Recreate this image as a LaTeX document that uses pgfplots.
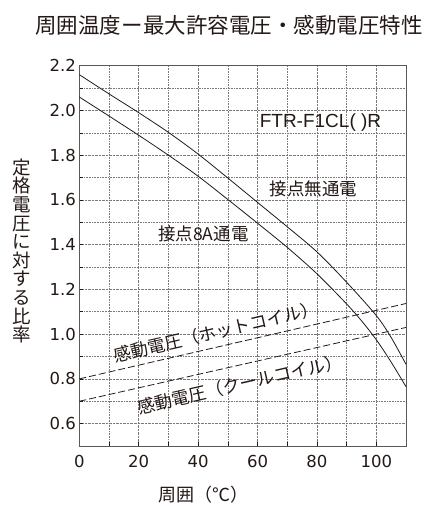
\documentclass[border=0pt]{standalone}
\usepackage{fontspec}
\usepackage{pgfplots}
\pgfplotsset{compat=1.18}
\setmainfont{DejaVu Sans}
\newfontfamily\jp{Noto Sans CJK JP}
\newfontfamily\arial{Liberation Sans}
\definecolor{ink}{HTML}{231815}
\definecolor{gridc}{HTML}{7A7A7A}
\begin{document}
\begin{tikzpicture}[x=1bp,y=1bp]
\path (0,0) rectangle (427,507);
\begin{axis}[
  at={(79.3bp,61bp)}, anchor=south west,
  width=326.7bp, height=380.3bp, scale only axis,
  xmin=0, xmax=110, ymin=0.5, ymax=2.2,
  xtick={0,20,40,60,80,100}, minor xtick={10,30,50,70,90},
  ytick={0.6,0.8,1.0,1.2,1.4,1.6,1.8,2.0,2.2},
  minor ytick={0.7,0.9,1.1,1.3,1.5,1.7,1.9,2.1},
  grid=both, grid style={densely dotted, gridc, line width=0.6pt},
  minor grid style={densely dotted, gridc, line width=0.6pt},
  tick align=inside, xtick pos=bottom, ytick pos=left,
  major tick length=4bp, minor tick length=4bp,
  tick style={ink, line width=0.6pt},
  axis line style={gray!70!black, line width=0.9pt},
  yticklabel style={/pgf/number format/fixed, /pgf/number format/fixed zerofill, /pgf/number format/precision=1},
  xticklabel style={yshift=-6bp},
  tick label style={font=\fontsize{16.5bp}{18bp}\selectfont, text=ink},
  /pgf/number format/assume math mode=true,
]
\addplot[ink, line width=0.8pt, smooth] coordinates {
 (0,2.16)(10,2.074)(20,1.99)(30,1.902)(40,1.805)(50,1.698)(60,1.589)(70,1.48)(80,1.368)(90,1.232)(100,1.083)(105,0.985)(110,0.865)};
\addplot[ink, line width=0.8pt, smooth] coordinates {
 (0,2.06)(10,1.975)(20,1.889)(30,1.80)(40,1.706)(50,1.602)(60,1.496)(70,1.388)(80,1.27)(90,1.135)(95,1.06)(100,0.975)(105,0.875)(110,0.765)};
\addplot[ink, line width=0.8pt, dash pattern=on 7bp off 3bp] coordinates {(0,0.80)(110,1.137)};
\addplot[ink, line width=0.8pt, dash pattern=on 7bp off 3bp] coordinates {(0,0.70)(110,1.03)};
\node[font=\arial\fontsize{19bp}{22bp}\selectfont, text=ink] at (axis cs:81.2,1.945) {FTR-F1CL( )R};
\node[font=\jp\fontsize{17.5bp}{20bp}\selectfont, text=ink] at (axis cs:78.8,1.65) {接点無通電};
\node[font=\jp\fontsize{17.5bp}{20bp}\selectfont, text=ink] at (axis cs:41.8,1.45) {接点8A通電};
\node[font=\jp\fontsize{17.5bp}{20bp}\selectfont, text=ink, rotate=13] at (axis cs:46.0,1.01) {感動電圧（ホットコイル）};
\node[font=\jp\fontsize{17.5bp}{20bp}\selectfont, text=ink, rotate=13] at (axis cs:54.2,0.776) {感動電圧（クールコイル）};
\end{axis}
\node[font=\jp\fontsize{21.5bp}{24bp}\selectfont, text=ink] at (229,482) {周囲温度ー最大許容電圧・感動電圧特性};
\node[font=\jp\fontsize{18.5bp}{18.6bp}\selectfont, text=ink, align=center] at (22,256) {定\\格\\電\\圧\\に\\対\\す\\る\\比\\率};
\node[font=\jp\fontsize{18bp}{20bp}\selectfont, text=ink] at (203,12) {周囲（℃）};
\end{tikzpicture}
\end{document}
